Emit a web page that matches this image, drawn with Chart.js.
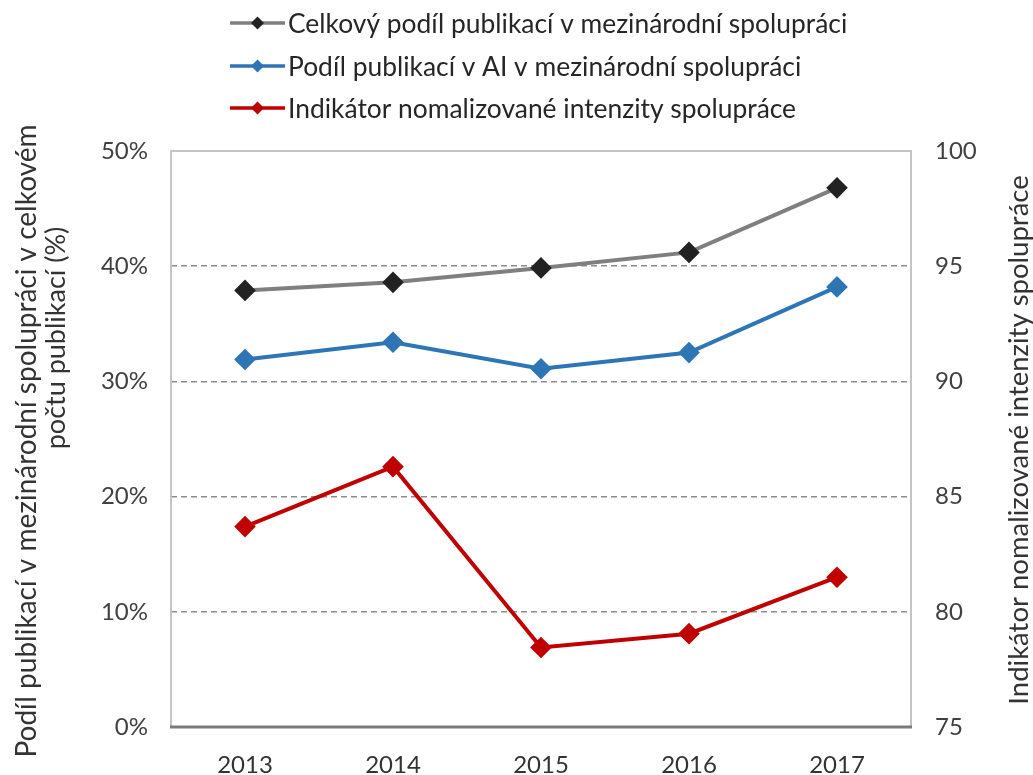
<!DOCTYPE html>
<html>
<head>
<meta charset="utf-8">
<script src="https://cdn.jsdelivr.net/npm/chart.js@4"></script>
<style>
  html, body { margin: 0; padding: 0; background: #fff; }
  #wrap { width: 1033px; height: 775px; }
</style>
</head>
<body>
<div id="wrap"><canvas id="c" width="1033" height="775"></canvas></div>
<script>
const categories = ['2013', '2014', '2015', '2016', '2017'];
const seriesLabels = [
  'Celkový podíl publikací v mezinárodní spolupráci',
  'Podíl publikací v AI v mezinárodní spolupráci',
  'Indikátor nomalizované intenzity spolupráce'
];
const totalShare = [37.9, 38.6, 39.85, 41.2, 46.8];
const aiShare = [31.9, 33.4, 31.1, 32.5, 38.2];
const intensity = [83.7, 86.3, 78.45, 79.05, 81.5];
const leftTicks = [0, 10, 20, 30, 40, 50];
const rightTicks = [75, 80, 85, 90, 95, 100];
const leftTitle = ['Podíl publikací v mezinárodní spolupráci v celkovém', 'počtu publikací (%)'];
const rightTitle = 'Indikátor nomalizované intenzity spolupráce';

const FONT = 'Lato, "Open Sans", sans-serif';

const frame = {
  id: 'frame',
  beforeDatasetsDraw(chart) {
    const {ctx, chartArea: a} = chart;
    ctx.save();
    ctx.strokeStyle = '#c4c4c4';
    ctx.lineWidth = 2;
    ctx.beginPath();
    ctx.moveTo(a.left, a.bottom);
    ctx.lineTo(a.left, a.top);
    ctx.lineTo(a.right, a.top);
    ctx.lineTo(a.right, a.bottom);
    ctx.stroke();
    ctx.strokeStyle = '#7a7a7a';
    ctx.lineWidth = 3;
    ctx.beginPath();
    ctx.moveTo(a.left - 1, a.bottom);
    ctx.lineTo(a.right + 1, a.bottom);
    ctx.stroke();
    ctx.restore();
  }
};

const axisTitles = {
  id: 'axisTitles',
  afterDraw(chart) {
    const ctx = chart.ctx;
    ctx.save();
    ctx.fillStyle = '#333333';
    ctx.textAlign = 'center';
    ctx.textBaseline = 'middle';
    const put = (text, x, y, size) => {
      ctx.save();
      ctx.font = size + 'px ' + FONT;
      ctx.translate(x, y);
      ctx.rotate(-Math.PI / 2);
      ctx.fillText(text, 0, 0);
      ctx.restore();
    };
    put(leftTitle[0], 27, 441, 28);
    put(leftTitle[1], 56, 338, 27);
    put(rightTitle, 1019, 440, 27.5);
    ctx.restore();
  }
};

const topLegend = {
  id: 'topLegend',
  afterDraw(chart) {
    const ctx = chart.ctx;
    const rows = [23, 66, 108];
    const x0 = 230, x1 = 285;
    ctx.save();
    chart.data.datasets.forEach((ds, i) => {
      const y = rows[i];
      ctx.strokeStyle = ds.borderColor;
      ctx.lineWidth = 3.5;
      ctx.beginPath();
      ctx.moveTo(x0, y);
      ctx.lineTo(x1, y);
      ctx.stroke();
      const cx = (x0 + x1) / 2, r = 6.5;
      ctx.fillStyle = ds.pointBackgroundColor;
      ctx.beginPath();
      ctx.moveTo(cx, y - r);
      ctx.lineTo(cx + r, y);
      ctx.lineTo(cx, y + r);
      ctx.lineTo(cx - r, y);
      ctx.closePath();
      ctx.fill();
      ctx.fillStyle = '#262626';
      ctx.font = '26.4px ' + FONT;
      ctx.textBaseline = 'middle';
      ctx.textAlign = 'left';
      ctx.fillText(ds.label, x1 + 3, y + 1);
    });
    ctx.restore();
  }
};

new Chart(document.getElementById('c'), {
  type: 'line',
  data: {
    labels: categories,
    datasets: [
      {
        label: seriesLabels[0], data: totalShare, yAxisID: 'y',
        borderColor: '#7f7f7f', backgroundColor: '#222222',
        pointBackgroundColor: '#222222', pointBorderColor: '#222222',
        borderWidth: 4, pointStyle: 'rectRot', pointRadius: 8, tension: 0
      },
      {
        label: seriesLabels[1], data: aiShare, yAxisID: 'y',
        borderColor: '#2e75b6', backgroundColor: '#2e75b6',
        pointBackgroundColor: '#2e75b6', pointBorderColor: '#2e75b6',
        borderWidth: 4, pointStyle: 'rectRot', pointRadius: 8, tension: 0
      },
      {
        label: seriesLabels[2], data: intensity, yAxisID: 'y1',
        borderColor: '#c00000', backgroundColor: '#c00000',
        pointBackgroundColor: '#c00000', pointBorderColor: '#c00000',
        borderWidth: 4, pointStyle: 'rectRot', pointRadius: 8, tension: 0
      }
    ]
  },
  options: {
    responsive: false,
    animation: false,
    layout: { padding: { top: 151, left: 0, right: 0, bottom: 0 } },
    plugins: { legend: { display: false }, tooltip: { enabled: false } },
    scales: {
      x: {
        offset: true,
        grid: { display: false, drawTicks: false },
        border: { display: false },
        ticks: { color: '#333333', font: { family: FONT, size: 24 }, padding: 24 },
        afterFit(s) { s.height = 48; }
      },
      y: {
        position: 'left',
        min: 0, max: 50,
        afterBuildTicks(s) { s.ticks = leftTicks.map(v => ({ value: v })); },
        ticks: {
          color: '#404040', font: { family: FONT, size: 24 }, padding: 23,
          callback: v => v + '%'
        },
        grid: {
          drawTicks: false, lineWidth: 1.5,
          color: c => (c.tick && (c.tick.value === 0 || c.tick.value === 50)) ? 'rgba(0,0,0,0)' : '#8c8c8c'
        },
        border: { display: false, dash: [6, 4] },
        title: { display: false },
        afterFit(s) { s.width = 171; }
      },
      y1: {
        position: 'right',
        min: 75, max: 100,
        afterBuildTicks(s) { s.ticks = rightTicks.map(v => ({ value: v })); },
        ticks: { color: '#404040', font: { family: FONT, size: 24 }, padding: 24 },
        grid: { display: false, drawTicks: false },
        border: { display: false },
        title: { display: false },
        afterFit(s) { s.width = 122; }
      }
    }
  },
  plugins: [frame, axisTitles, topLegend]
});
</script>
</body>
</html>
